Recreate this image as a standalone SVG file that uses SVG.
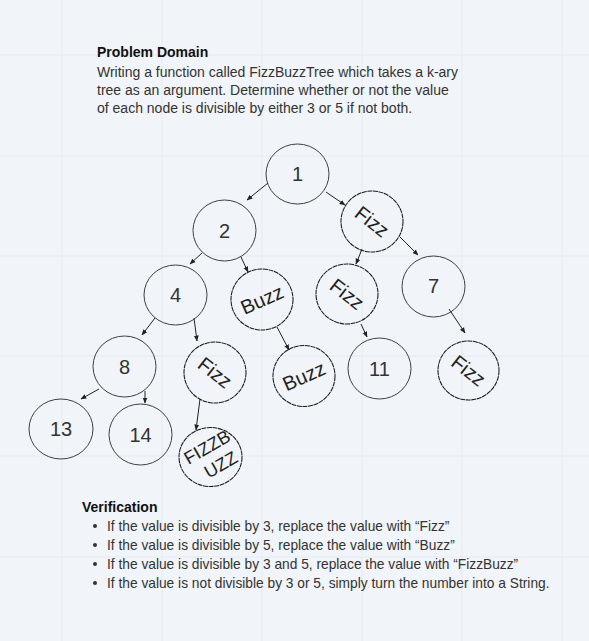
<svg xmlns="http://www.w3.org/2000/svg" width="589" height="641" viewBox="0 0 589 641">
<style>
.bg{fill:#f1f4f8}
.grid{stroke:#e7ebf0;stroke-width:1;fill:none}
.num{fill:none;stroke:#3c3f44;stroke-width:1}
.fz{fill:none;stroke:#1a1a1a;stroke-width:1.05;stroke-dasharray:5 0.6}
.t{font-family:"Liberation Sans",Arial,sans-serif;fill:#333;text-anchor:middle}
.n{font-size:20px}
.w{font-size:20px;fill:#222}
.p{font-family:"Liberation Sans",Arial,sans-serif;font-size:14px;fill:#333}
.v{font-size:13.75px}
.b{font-weight:bold;fill:#111}
.e{stroke:#222;stroke-width:1;fill:none;marker-end:url(#ah)}
</style>
<defs>
<marker id="ah" viewBox="0 0 10 10" refX="9" refY="5" markerWidth="6" markerHeight="6" markerUnits="userSpaceOnUse" orient="auto">
<path d="M0,1 L10,5 L0,9 z" fill="#222"/>
</marker>
</defs>
<rect class="bg" x="0" y="0" width="589" height="641"/>
<g id="grid" class="grid">
<path d="M62,0V641M162,0V641M262,0V641M362,0V641M462,0V641M562,0V641M0,55H589M0,156H589M0,256H589M0,356H589M0,456H589M0,557H589"/>
</g>
<g id="problem-domain">
<text class="p b" x="97" y="57">Problem Domain</text>
<text class="p" x="97" y="77">Writing a function called FizzBuzzTree which takes a k-ary</text>
<text class="p" x="97" y="95">tree as an argument. Determine whether or not the value</text>
<text class="p" x="97" y="113">of each node is divisible by either 3 or 5 if not both.</text>
</g>
<g id="connectors">
<line class="e" x1="268" y1="183" x2="247" y2="200"/>
<line class="e" x1="326" y1="192" x2="345" y2="205"/>
<line class="e" x1="362" y1="249" x2="356" y2="264"/>
<line class="e" x1="400" y1="237" x2="418" y2="255"/>
<line class="e" x1="202" y1="253" x2="190" y2="264"/>
<line class="e" x1="241" y1="257" x2="248" y2="272"/>
<line class="e" x1="155" y1="318" x2="142" y2="335"/>
<line class="e" x1="194" y1="318" x2="197" y2="341"/>
<line class="e" x1="277" y1="327" x2="289" y2="350"/>
<line class="e" x1="361" y1="324" x2="367" y2="337"/>
<line class="e" x1="449" y1="309" x2="465" y2="333"/>
<line class="e" x1="99" y1="389" x2="81" y2="399"/>
<line class="e" x1="145" y1="391" x2="145" y2="403"/>
<line class="e" x1="200" y1="399" x2="196" y2="430"/>
</g>
<g id="n1"><ellipse class="num" cx="297.5" cy="174" rx="31.5" ry="30"/><text class="t n" x="297.5" y="181">1</text></g>
<g id="n2"><ellipse class="num" cx="224.5" cy="230.5" rx="31.5" ry="30.5"/><text class="t n" x="224.5" y="238">2</text></g>
<g id="fizz1"><ellipse class="fz" cx="372" cy="221.5" rx="31" ry="30.5"/><text class="t w" transform="translate(372,221.5) rotate(38)" x="0" y="7">Fizz</text></g>
<g id="n4"><ellipse class="num" cx="175.5" cy="295" rx="31.5" ry="30"/><text class="t n" x="175.5" y="302">4</text></g>
<g id="buzz1"><ellipse class="fz" cx="262" cy="299.5" rx="31" ry="30.5"/><text class="t w" transform="translate(262,299.5) rotate(-24)" x="0" y="7">Buzz</text></g>
<g id="fizz2"><ellipse class="fz" cx="347" cy="294" rx="31" ry="30"/><text class="t w" transform="translate(347,294) rotate(38)" x="0" y="7">Fizz</text></g>
<g id="n7"><ellipse class="num" cx="433.5" cy="286.5" rx="31.5" ry="30.5"/><text class="t n" x="433.5" y="293">7</text></g>
<g id="n8"><ellipse class="num" cx="124.5" cy="366.5" rx="31.5" ry="30.5"/><text class="t n" x="124.5" y="374">8</text></g>
<g id="fizz3"><ellipse class="fz" cx="215" cy="372.5" rx="31" ry="30.5"/><text class="t w" transform="translate(215,372.5) rotate(38)" x="0" y="7">Fizz</text></g>
<g id="buzz2"><ellipse class="fz" cx="304" cy="376" rx="31" ry="30.5"/><text class="t w" transform="translate(304,376) rotate(-24)" x="0" y="7">Buzz</text></g>
<g id="n11"><ellipse class="num" cx="379.5" cy="368.5" rx="31.5" ry="30.5"/><text class="t n" x="379.5" y="376">11</text></g>
<g id="fizz4"><ellipse class="fz" cx="468.5" cy="370.5" rx="30.5" ry="29.5"/><text class="t w" transform="translate(468.5,370.5) rotate(38)" x="0" y="7">Fizz</text></g>
<g id="n13"><ellipse class="num" cx="61" cy="429" rx="32" ry="30"/><text class="t n" x="61" y="436">13</text></g>
<g id="n14"><ellipse class="num" cx="140.5" cy="434.5" rx="31.5" ry="30.5"/><text class="t n" x="140.5" y="442">14</text></g>
<g id="fizzbuzz"><ellipse class="fz" cx="210.5" cy="457" rx="31.5" ry="29.5"/><text class="t w" style="font-size:18px" transform="translate(210.5,457) rotate(-30)"><tspan x="2" y="-4">FIZZB</tspan><tspan x="5" y="18">UZZ</tspan></text></g>
<g id="verification">
<text class="p b" x="82" y="512">Verification</text>
<g fill="#333"><circle cx="95" cy="526" r="2"/><circle cx="95" cy="545" r="2"/><circle cx="95" cy="564" r="2"/><circle cx="95" cy="583" r="2"/></g>
<text class="p v" x="107" y="531">If the value is divisible by 3, replace the value with “Fizz”</text>
<text class="p v" x="107" y="550">If the value is divisible by 5, replace the value with “Buzz”</text>
<text class="p v" x="107" y="569">If the value is divisible by 3 and 5, replace the value with “FizzBuzz”</text>
<text class="p v" x="107" y="588">If the value is not divisible by 3 or 5, simply turn the number into a String.</text>
</g>
</svg>
